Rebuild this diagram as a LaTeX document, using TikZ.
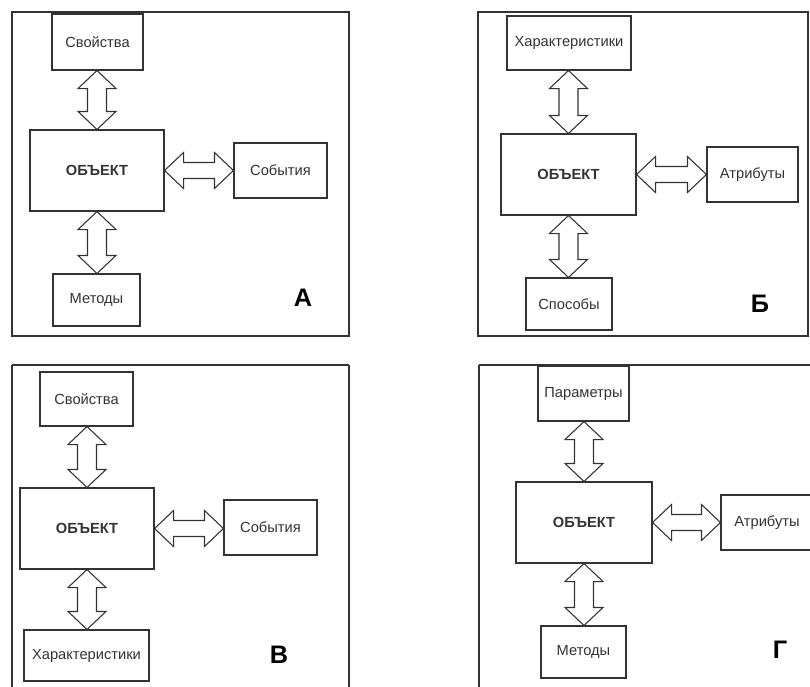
\documentclass[tikz,border=0pt]{standalone}
\usepackage{fontspec}
\setmainfont{Liberation Sans}
\usetikzlibrary{calc}
\newcommand\vdbl[2]{%
  \draw[darr] (#1) -- ($(#1)+(19,18)$) -- ($(#1)+(9.5,18)$) -- ($(#2)+(9.5,-18)$) -- ($(#2)+(19,-18)$) -- (#2)
   -- ($(#2)+(-19,-18)$) -- ($(#2)+(-9.5,-18)$) -- ($(#1)+(-9.5,18)$) -- ($(#1)+(-19,18)$) -- cycle;}
\newcommand\hdbl[2]{%
  \draw[darr] (#1) -- ($(#1)+(19,-18)$) -- ($(#1)+(19,-8)$) -- ($(#2)+(-19,-8)$) -- ($(#2)+(-19,-18)$) -- (#2)
   -- ($(#2)+(-19,18)$) -- ($(#2)+(-19,8)$) -- ($(#1)+(19,8)$) -- ($(#1)+(19,18)$) -- cycle;}
\begin{document}
\begin{tikzpicture}[x=0.75pt,y=-0.75pt,
  bx/.style 2 args={draw=black!80, line width=0.8pt, fill=white, minimum width=#1*0.75pt, minimum height=#2*0.75pt, inner sep=0pt, font=\fontsize{11pt}{13pt}\selectfont, text=black!80},
  obj/.style={font=\fontsize{11pt}{13pt}\selectfont\bfseries},
  frame/.style={draw=black!80, line width=1pt},
  darr/.style={draw=black!80, line width=0.8pt, fill=white, line join=miter},
  lbl/.style={font=\fontsize{19pt}{22pt}\selectfont\bfseries, text=black}]
\useasboundingbox (0,0) rectangle (810,686);
\clip (0,0) rectangle (810,686);
\fill[white] (0,0) rectangle (810,686);
% frames
\draw[frame] (12,12) rectangle (349,336);
\draw[frame] (478,12) rectangle (808,336);
\draw[frame] (12,365) -- (349,365);
\draw[frame] (12,365) -- (12,700);
\draw[frame] (349,365) -- (349,700);
\draw[frame] (479,365) -- (815,365);
\draw[frame] (479,365) -- (479,700);
% Panel A
\node[bx={91}{56}] (svA) at (97.5,42) {Свойства};
\node[bx={134}{81}, obj] (obA) at (97,170.5) {ОБЪЕКТ};
\node[bx={93}{55}] (evA) at (280.5,170.5) {События};
\node[bx={87}{52}] (meA) at (96.5,300) {Методы};
\node[lbl] (lA) at (303,298) {А};
\coordinate (tA) at (obA.north |- svA.south);
\coordinate (bA) at (obA.south |- meA.north);
\coordinate (rA) at (evA.west |- obA.east);
\vdbl{tA}{obA.north}
\vdbl{obA.south}{bA}
\hdbl{obA.east}{rA}
% Panel B
\node[bx={124}{54}] (chB) at (569,43) {Характеристики};
\node[bx={135}{81}, obj] (obB) at (568.5,174.5) {ОБЪЕКТ};
\node[bx={91}{55}] (atB) at (752.5,174.5) {Атрибуты};
\node[bx={86}{52}] (spB) at (569,304) {Способы};
\node[lbl] (lB) at (760,304) {Б};
\coordinate (tB) at (obB.north |- chB.south);
\coordinate (bB) at (obB.south |- spB.north);
\coordinate (rB) at (atB.west |- obB.east);
\vdbl{tB}{obB.north}
\vdbl{obB.south}{bB}
\hdbl{obB.east}{rB}
% Panel V
\node[bx={93}{54}] (svC) at (86.5,399) {Свойства};
\node[bx={134}{81}, obj] (obC) at (87,528.5) {ОБЪЕКТ};
\node[bx={93}{55}] (evC) at (270.5,527.5) {События};
\node[bx={125}{51}] (chC) at (86.5,655.5) {Характеристики};
\node[lbl] (lC) at (279,655) {В};
\coordinate (tC) at (obC.north |- svC.south);
\coordinate (bC) at (obC.south |- chC.north);
\coordinate (rC) at (evC.west |- obC.east);
\vdbl{tC}{obC.north}
\vdbl{obC.south}{bC}
\hdbl{obC.east}{rC}
% Panel G
\node[bx={91}{55}] (paD) at (583.5,393.5) {Параметры};
\node[bx={136}{81}, obj] (obD) at (584,522.5) {ОБЪЕКТ};
\node[bx={92}{55}] (atD) at (767,522.5) {Атрибуты};
\node[bx={85}{52}] (meD) at (583.5,652) {Методы};
\node[lbl] (lD) at (780,650) {Г};
\coordinate (tD) at (obD.north |- paD.south);
\coordinate (bD) at (obD.south |- meD.north);
\coordinate (rD) at (atD.west |- obD.east);
\vdbl{tD}{obD.north}
\vdbl{obD.south}{bD}
\hdbl{obD.east}{rD}
\end{tikzpicture}
\end{document}
